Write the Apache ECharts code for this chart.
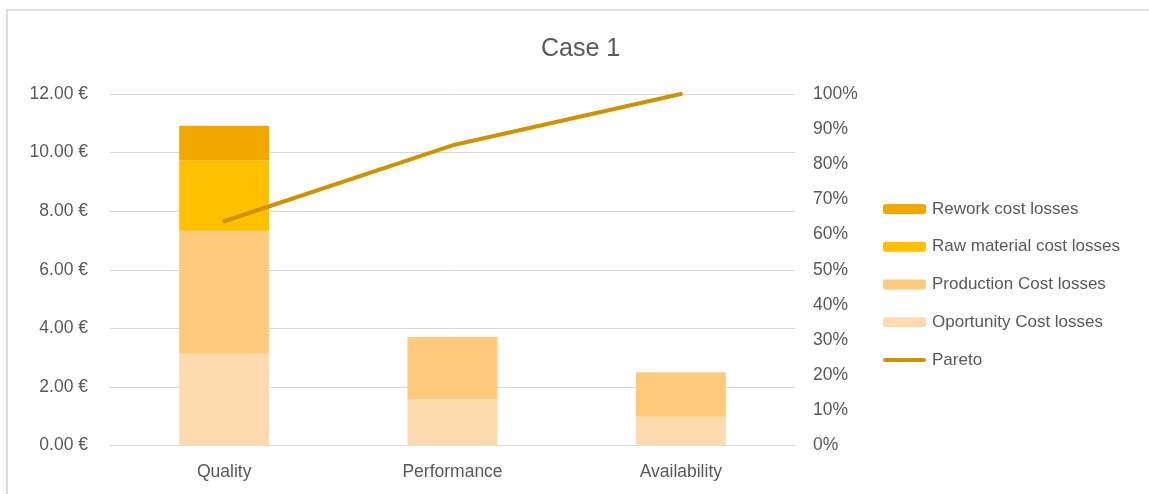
<!DOCTYPE html>
<html>
<head>
<meta charset="utf-8">
<script src="https://cdn.jsdelivr.net/npm/echarts@6/dist/echarts.min.js"></script>
<style>
  html, body { margin: 0; padding: 0; background: #fff; }
  #frame { position: absolute; left: 6px; top: 9px; width: 1200px; height: 600px;
           border-top: 2px solid #dedede; border-left: 2px solid #dedede; }
  #chart { position: absolute; left: 0; top: 0; width: 1149px; height: 494px; }
</style>
</head>
<body>
<div id="frame"></div>
<div id="chart"></div>
<script>
const categories = ['Quality', 'Performance', 'Availability'];
const opportunityCost = [3.13, 1.58, 0.98];
const productionCost = [4.20, 2.12, 1.52];
const rawMaterialCost = [2.41, 0, 0];
const reworkCost = [1.18, 0, 0];
const pareto = [0.638, 0.854, 1.0];
const leftTicks = { min: 0, max: 12, interval: 2 };
const rightTicks = { min: 0, max: 1, interval: 0.1 };

const FONT = '"Liberation Sans", Arial, sans-serif';
const TXT = '#595959';
const LBL = 17.5;

const chart = echarts.init(document.getElementById('chart'), null, { renderer: 'canvas' });

function barSeries(name, data, color) {
  return {
    name: name, type: 'bar', stack: 'costs', data: data,
    barWidth: 90, itemStyle: { color: color },
    emphasis: { disabled: true }
  };
}

chart.setOption({
  animation: false,
  textStyle: { fontFamily: FONT },
  title: {
    text: 'Case 1', left: 536, top: 32, padding: 5,
    textStyle: { fontFamily: FONT, fontSize: 25, fontWeight: 'normal', color: TXT }
  },
  grid: { left: 110, right: 354, top: 94, bottom: 48.5, containLabel: false, outerBoundsMode: 'none' },
  legend: {
    orient: 'vertical', left: 878, top: 194,
    itemWidth: 43, itemHeight: 10, itemGap: 17.75, itemSymbolKeepAspect: true,
    data: ['Rework cost losses', 'Raw material cost losses', 'Production Cost losses', 'Oportunity Cost losses',
           { name: 'Pareto', icon: 'path://M2,0L41,0A2,2,0,0,1,41,4L2,4A2,2,0,0,1,2,0Z' }],
    textStyle: { fontFamily: FONT, fontSize: 17, color: TXT, lineHeight: 20, padding: [0, 0, 0, 1] },
    selectedMode: false
  },
  xAxis: {
    type: 'category', data: categories,
    axisLine: { lineStyle: { color: '#d9d9d9', width: 1 } },
    axisTick: { show: false },
    axisLabel: { color: TXT, fontSize: LBL, fontFamily: FONT, margin: 18 }
  },
  yAxis: [
    {
      type: 'value', min: leftTicks.min, max: leftTicks.max, interval: leftTicks.interval,
      axisLine: { show: false }, axisTick: { show: false },
      splitLine: { lineStyle: { color: '#d9d9d9', width: 1 } },
      axisLabel: { color: TXT, fontSize: LBL, fontFamily: FONT, margin: 22,
                   formatter: v => v.toFixed(2) + ' €' }
    },
    {
      type: 'value', min: rightTicks.min, max: rightTicks.max, interval: rightTicks.interval,
      position: 'right',
      axisLine: { show: false }, axisTick: { show: false },
      splitLine: { show: false },
      axisLabel: { color: TXT, fontSize: LBL, fontFamily: FONT, margin: 18,
                   formatter: v => Math.round(v * 100) + '%' }
    }
  ],
  series: [
    barSeries('Oportunity Cost losses', opportunityCost, '#FEDBAF'),
    barSeries('Production Cost losses', productionCost, '#FFCA7B'),
    barSeries('Raw material cost losses', rawMaterialCost, '#FFC000'),
    barSeries('Rework cost losses', reworkCost, '#F3A800'),
    {
      name: 'Pareto', type: 'line', yAxisIndex: 1, data: pareto,
      symbol: 'none', lineStyle: { color: '#D09300', width: 4, cap: 'round' },
      itemStyle: { color: '#D09300' }, emphasis: { disabled: true }
    }
  ]
});
</script>
</body>
</html>
